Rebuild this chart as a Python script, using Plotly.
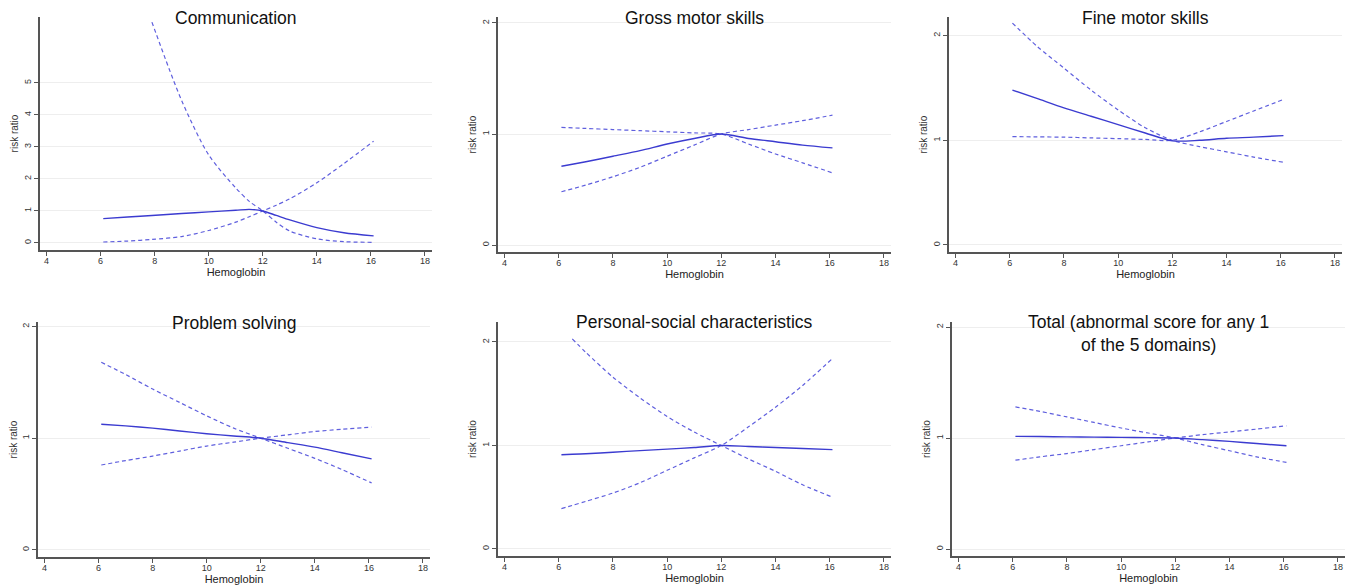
import plotly.graph_objects as go

# ---------------- data ----------------
titles = ["Communication", "Gross motor skills", "Fine motor skills",
          "Problem solving", "Personal-social characteristics",
          "Total (abnormal score for any 1<br>of the 5 domains)"]

hb_grid = [6.1, 7, 8, 9, 10, 11, 12, 13, 14, 15, 16.1]

# Communication
comm_hb = [6.1, 7, 7.9, 9, 10, 11, 11.5, 12, 12.5, 13, 14, 15, 16.1]
comm_rr = [0.76, 0.81, 0.86, 0.92, 0.97, 1.02, 1.05, 1.0, 0.86, 0.72, 0.48, 0.32, 0.22]
comm_ci_a = [None, None, 6.9, 4.45, 2.75, 1.72, 1.3, 1.0, 0.65, 0.37, 0.13, 0.04, 0.02]
comm_ci_b = [0.03, 0.06, 0.11, 0.2, 0.39, 0.65, 0.82, 1.0, 1.18, 1.38, 1.88, 2.48, 3.18]

# Gross motor skills
gross_rr = [0.71, 0.75, 0.80, 0.85, 0.91, 0.96, 1.0, 0.96, 0.93, 0.90, 0.875]
gross_ci_a = [1.06, 1.05, 1.04, 1.03, 1.02, 1.01, 1.0, 0.91, 0.82, 0.74, 0.65]
gross_ci_b = [0.48, 0.54, 0.615, 0.70, 0.80, 0.90, 1.0, 1.04, 1.08, 1.12, 1.17]

# Fine motor skills
fine_rr = [1.48, 1.40, 1.31, 1.23, 1.15, 1.07, 0.995, 1.0, 1.02, 1.03, 1.045]
fine_ci_a = [2.12, 1.90, 1.69, 1.48, 1.29, 1.12, 1.0, 0.94, 0.89, 0.84, 0.79]
fine_ci_b = [1.035, 1.033, 1.03, 1.023, 1.016, 1.008, 1.0, 1.08, 1.18, 1.28, 1.39]

# Problem solving
prob_rr = [1.125, 1.11, 1.09, 1.065, 1.04, 1.02, 1.0, 0.96, 0.92, 0.87, 0.815]
prob_ci_a = [1.68, 1.57, 1.44, 1.32, 1.2, 1.09, 1.0, 0.91, 0.82, 0.72, 0.60]
prob_ci_b = [0.76, 0.80, 0.84, 0.885, 0.93, 0.965, 1.0, 1.03, 1.06, 1.08, 1.10]

# Personal-social characteristics
pers_hb = [6.1, 6.5, 7, 8, 9, 10, 11, 12, 13, 14, 15, 16.1]
pers_rr = [0.91, 0.915, 0.92, 0.935, 0.95, 0.965, 0.98, 1.0, 0.99, 0.98, 0.97, 0.96]
pers_ci_a = [None, 2.03, 1.90, 1.66, 1.46, 1.28, 1.13, 1.0, 0.87, 0.75, 0.62, 0.50]
pers_ci_b = [0.39, 0.42, 0.46, 0.54, 0.64, 0.76, 0.88, 1.0, 1.18, 1.37, 1.58, 1.84]

# Total
tot_rr = [1.015, 1.013, 1.01, 1.008, 1.006, 1.003, 1.0, 0.985, 0.97, 0.95, 0.93]
tot_ci_a = [1.28, 1.24, 1.19, 1.14, 1.09, 1.045, 1.0, 0.94, 0.885, 0.83, 0.78]
tot_ci_b = [0.80, 0.83, 0.86, 0.895, 0.93, 0.965, 1.0, 1.03, 1.055, 1.08, 1.11]

x_ticks = [4, 6, 8, 10, 12, 14, 16, 18]
y_ticks_comm = [0, 1, 2, 3, 4, 5]
y_ticks_other = [0, 1, 2]

panels = [
    (comm_hb, comm_rr, comm_ci_a, comm_ci_b),
    (hb_grid, gross_rr, gross_ci_a, gross_ci_b),
    (hb_grid, fine_rr, fine_ci_a, fine_ci_b),
    (hb_grid, prob_rr, prob_ci_a, prob_ci_b),
    (pers_hb, pers_rr, pers_ci_a, pers_ci_b),
    (hb_grid, tot_rr, tot_ci_a, tot_ci_b),
]

# ---------------- layout geometry (screen pixels) ----------------
W, H = 1356, 585
OFF = 8  # page body margin offsets the figure on screen
# (x_left, x_right, y_top, y_bottom) of plot area, y range
geom = [
    (40, 432, 17, 250, [-0.22, 7.06]),
    (498, 891, 17, 252, [-0.063, 2.054]),
    (949, 1342, 17, 252, [-0.067, 2.178]),
    (38, 430, 322, 557, [-0.063, 2.04]),
    (498, 891, 322, 556, [-0.068, 2.193]),
    (952, 1345, 322, 556, [-0.063, 2.045]),
]
title_y = [18, 18, 18, 323, 322, 333]


def px(x):
    return (x - OFF) / W


def py(y):
    return (H - (y - OFF)) / H


FONT = "Arial, Liberation Sans, sans-serif"
SOLID = "#3b3bd0"
DASH = "#5f5fde"

fig = go.Figure()
for i, ((hb, rr, ca, cb), (xl, xr, yt, yb, yr)) in enumerate(zip(panels, geom)):
    n = i + 1
    xa = "x" if n == 1 else f"x{n}"
    ya = "y" if n == 1 else f"y{n}"
    for vals, style, col, w in [(ca, "4px,3px", DASH, 1.2), (cb, "4px,3px", DASH, 1.2), (rr, "solid", SOLID, 1.4)]:
        fig.add_trace(go.Scatter(x=hb, y=vals, mode="lines", xaxis=xa, yaxis=ya,
                                 line=dict(color=col, width=w, dash=style, shape="spline", smoothing=0.8),
                                 connectgaps=False, showlegend=False, hoverinfo="skip"))
    axis_common = dict(showline=True, linecolor="#555555", linewidth=1.5,
                       ticks="outside", ticklen=4, tickcolor="#555555", tickwidth=1,
                       tickfont=dict(family=FONT, size=9, color="#333333"),
                       zeroline=False)
    fig.layout[f"xaxis{n if n > 1 else ''}"] = dict(
        domain=[px(xl), px(xr)], range=[3.76, 18.26], anchor=ya,
        tickvals=x_ticks, showgrid=False, ticklabelstandoff=-3,
        title=dict(text="Hemoglobin", font=dict(family=FONT, size=11, color="#222222"), standoff=0),
        **axis_common)
    fig.layout[f"yaxis{n if n > 1 else ''}"] = dict(
        domain=[py(yb), py(yt)], range=yr, anchor=xa,
        tickvals=y_ticks_comm if n == 1 else y_ticks_other, tickangle=-90,
        showgrid=True, gridcolor="#eeeeee", gridwidth=1,
        title=dict(text="risk ratio", font=dict(family=FONT, size=10, color="#333333"), standoff=2),
        **axis_common)
    fig.add_annotation(text=titles[i], xref="paper", yref="paper",
                       x=px((xl + xr) / 2), y=py(title_y[i]),
                       xanchor="center", yanchor="middle", showarrow=False,
                       font=dict(family=FONT, size=17.5, color="#111111"))

fig.update_layout(width=W, height=H, margin=dict(l=0, r=0, t=0, b=0),
                  paper_bgcolor="white", plot_bgcolor="white")
fig.write_html("out.html")
